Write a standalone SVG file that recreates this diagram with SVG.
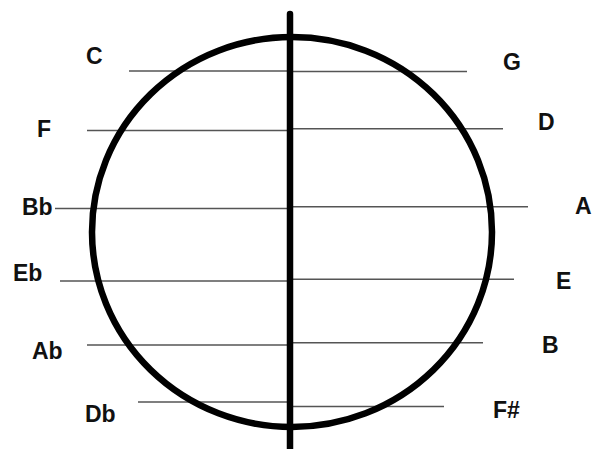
<svg xmlns="http://www.w3.org/2000/svg" width="594" height="449" viewBox="0 0 594 449">
<style>
.lbl{font-family:"Liberation Sans",Arial,sans-serif;font-weight:bold;font-size:23px;fill:#111}
.ln{stroke:#555;stroke-width:1.6;fill:none}
.thick{stroke:#000;stroke-width:6.5;fill:none}
</style>
<rect width="594" height="449" fill="#fff"/>
<g id="lines">
<line class="ln" x1="129" y1="71" x2="290" y2="71"/>
<line class="ln" x1="290" y1="71.5" x2="467" y2="71.5"/>
<line class="ln" x1="87" y1="130.5" x2="290" y2="130.5"/>
<line class="ln" x1="290" y1="128.7" x2="503" y2="128.7"/>
<line class="ln" x1="55" y1="208.5" x2="290" y2="208.5"/>
<line class="ln" x1="290" y1="206.7" x2="528" y2="206.7"/>
<line class="ln" x1="60" y1="281" x2="290" y2="281"/>
<line class="ln" x1="290" y1="279.3" x2="514" y2="279.3"/>
<line class="ln" x1="87" y1="345" x2="290" y2="345"/>
<line class="ln" x1="290" y1="342.7" x2="483" y2="342.7"/>
<line class="ln" x1="138" y1="402" x2="290" y2="402"/>
<line class="ln" x1="290" y1="406.5" x2="444" y2="406.5"/>
</g>
<g id="circle">
<ellipse class="thick" cx="292" cy="232" rx="200" ry="195"/>
</g>
<g id="axis">
<line class="thick" x1="290" y1="14" x2="290" y2="449" stroke-linecap="round"/>
</g>
<g id="label-C"><text class="lbl" x="86" y="64">C</text></g>
<g id="label-F"><text class="lbl" x="37" y="137">F</text></g>
<g id="label-Bb"><text class="lbl" x="22" y="215">Bb</text></g>
<g id="label-Eb"><text class="lbl" x="13" y="281">Eb</text></g>
<g id="label-Ab"><text class="lbl" x="32" y="359">Ab</text></g>
<g id="label-Db"><text class="lbl" x="85" y="422">Db</text></g>
<g id="label-G"><text class="lbl" x="503" y="70">G</text></g>
<g id="label-D"><text class="lbl" x="538" y="130">D</text></g>
<g id="label-A"><text class="lbl" x="575" y="214">A</text></g>
<g id="label-E"><text class="lbl" x="556" y="289">E</text></g>
<g id="label-B"><text class="lbl" x="542" y="353">B</text></g>
<g id="label-Fs"><text class="lbl" x="493" y="418">F#</text></g>
</svg>
